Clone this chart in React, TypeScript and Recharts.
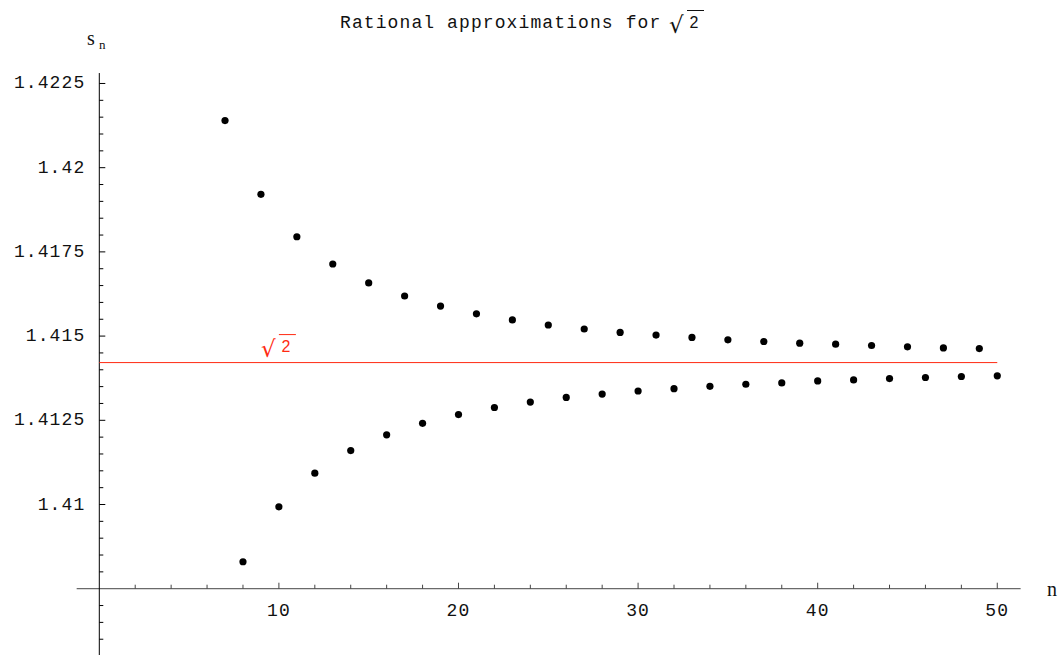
import { ScatterChart, Scatter, XAxis, YAxis, ReferenceLine, ReferenceDot } from "recharts"

// odd-index approximations (above sqrt 2)
const oddN = [7, 9, 11, 13, 15, 17, 19, 21, 23, 25, 27, 29, 31, 33, 35, 37, 39, 41, 43, 45, 47, 49]
const oddS = [
  1.4214, 1.41921, 1.41795, 1.41714, 1.41658, 1.41619, 1.41589, 1.41566, 1.41548, 1.41533, 1.41521,
  1.41511, 1.41503, 1.41496, 1.41489, 1.41484, 1.41479, 1.41476, 1.41472, 1.41468, 1.41465, 1.41463,
]
// even-index approximations (below sqrt 2)
const evenN = [8, 10, 12, 14, 16, 18, 20, 22, 24, 26, 28, 30, 32, 34, 36, 38, 40, 42, 44, 46, 48, 50]
const evenS = [
  1.4083, 1.40993, 1.41093, 1.4116, 1.41207, 1.41241, 1.41267, 1.41288, 1.41304, 1.41318, 1.41328,
  1.41337, 1.41344, 1.41351, 1.41357, 1.41361, 1.41367, 1.4137, 1.41374, 1.41377, 1.4138, 1.41382,
]

const SQRT2 = 1.41421356

const xMajor = [10, 20, 30, 40, 50]
const xMinor = [2, 4, 6, 8, 12, 14, 16, 18, 22, 24, 26, 28, 32, 34, 36, 38, 42, 44, 46, 48]
const yMajor = [1.41, 1.4125, 1.415, 1.4175, 1.42, 1.4225]
const yMajorLabels = ["1.41", "1.4125", "1.415", "1.4175", "1.42", "1.4225"]
const yMinor = [
  1.406, 1.4065, 1.407, 1.408, 1.4085, 1.409, 1.4095, 1.4105, 1.411, 1.4115, 1.412, 1.413, 1.4135,
  1.414, 1.4145, 1.4155, 1.416, 1.4165, 1.417, 1.418, 1.4185, 1.419, 1.4195, 1.4205, 1.421, 1.4215, 1.422,
]

const points = [
  ...oddN.map((n, i) => ({ n, s: oddS[i] })),
  ...evenN.map((n, i) => ({ n, s: evenS[i] })),
]

const ORIGIN_Y = 1.4075
const mono = "'Liberation Mono', 'Courier New', monospace"
const serif = "'Liberation Serif', 'Times New Roman', serif"
const red = "#ff2a12"

const Dot = (props: any) => <circle cx={props.cx} cy={props.cy} r={3.6} fill="#000" />

// radical sign + overlined 2, anchored at the left of the radical, baseline of the 2
const Sqrt2 = ({ x, y, color }: { x: number; y: number; color: string }) => (
  <g>
    <text x={x - 1} y={y + 5} fontFamily="'DejaVu Sans', sans-serif" fontSize={23} fill={color}>
      √
    </text>
    <text x={x + 19.5} y={y} fontFamily="'Liberation Sans', sans-serif" fontSize={16} fill={color}>
      2
    </text>
    <line x1={x + 17} x2={x + 34} y1={y - 17.5} y2={y - 17.5} stroke={color} strokeWidth={1} />
  </g>
)

export default function App() {
  return (
    <div style={{ position: "absolute", left: 0, top: 0, width: 1062, height: 655, background: "#fff" }}>
      <ScatterChart width={1062} height={655} margin={{ top: 49.8, right: 28.8, bottom: 2.3, left: 9.5 }}>
        <XAxis type="number" dataKey="n" domain={[-5, 52]} hide allowDataOverflow />
        <YAxis type="number" dataKey="s" domain={[1.4056, 1.4235]} hide allowDataOverflow />

        {/* axes */}
        <ReferenceLine
          segment={[{ x: -1.26, y: ORIGIN_Y }, { x: 51.3, y: ORIGIN_Y }]}
          stroke="#444"
          ifOverflow="visible"
        />
        <ReferenceLine
          segment={[{ x: 0, y: 1.40553 }, { x: 0, y: 1.42281 }]}
          stroke="#000"
          ifOverflow="visible"
        />

        {xMinor.map((v) => (
          <ReferenceDot
            key={`xm-${v}`}
            x={v}
            y={ORIGIN_Y}
            ifOverflow="visible"
            shape={(p: any) => <line x1={p.cx} x2={p.cx} y1={p.cy} y2={p.cy - 4} stroke="#444" />}
          />
        ))}
        {xMajor.map((v) => (
          <ReferenceDot
            key={`xM-${v}`}
            x={v}
            y={ORIGIN_Y}
            ifOverflow="visible"
            shape={(p: any) => (
              <g>
                <line x1={p.cx} x2={p.cx} y1={p.cy} y2={p.cy - 6} stroke="#444" />
                <text
                  x={p.cx}
                  y={p.cy + 27}
                  textAnchor="middle"
                  fontFamily={mono}
                  fontSize={18}
                  letterSpacing={1.1}
                  fill="#111"
                >
                  {v}
                </text>
              </g>
            )}
          />
        ))}
        {yMinor.map((v) => (
          <ReferenceDot
            key={`ym-${v}`}
            x={0}
            y={v}
            ifOverflow="visible"
            shape={(p: any) => <line x1={p.cx} x2={p.cx + 4} y1={p.cy} y2={p.cy} stroke="#000" />}
          />
        ))}
        {yMajor.map((v, i) => (
          <ReferenceDot
            key={`yM-${v}`}
            x={0}
            y={v}
            ifOverflow="visible"
            shape={(p: any) => (
              <g>
                <line x1={p.cx} x2={p.cx + 6} y1={p.cy} y2={p.cy} stroke="#000" />
                <text
                  x={p.cx - 14}
                  y={p.cy + 5}
                  textAnchor="end"
                  fontFamily={mono}
                  fontSize={18}
                  letterSpacing={1.1}
                  fill="#111"
                >
                  {yMajorLabels[i]}
                </text>
              </g>
            )}
          />
        ))}

        {/* sqrt 2 reference */}
        <ReferenceLine
          segment={[{ x: 0, y: SQRT2 }, { x: 50, y: SQRT2 }]}
          stroke={red}
          ifOverflow="visible"
        />
        <ReferenceDot
          x={10}
          y={SQRT2}
          ifOverflow="visible"
          shape={(p: any) => <Sqrt2 x={p.cx - 17} y={p.cy - 10.5} color={red} />}
        />

        <Scatter data={points} fill="#000" shape={Dot} isAnimationActive={false} />
      </ScatterChart>

      <svg width={1062} height={655} style={{ position: "absolute", left: 0, top: 0, pointerEvents: "none" }}>
        <text x={340} y={28} fontFamily={mono} fontSize={18} letterSpacing={1.1} fill="#111">
          Rational approximations for
        </text>
        <Sqrt2 x={670} y={28} color="#111" />

        <text x={87} y={45} fontFamily={serif} fontSize={20} fill="#111">
          s
        </text>
        <text x={99} y={49} fontFamily={serif} fontSize={13} fill="#111">
          n
        </text>
        <text x={1047} y={596} fontFamily={serif} fontSize={20} fill="#111">
          n
        </text>
      </svg>
    </div>
  )
}
